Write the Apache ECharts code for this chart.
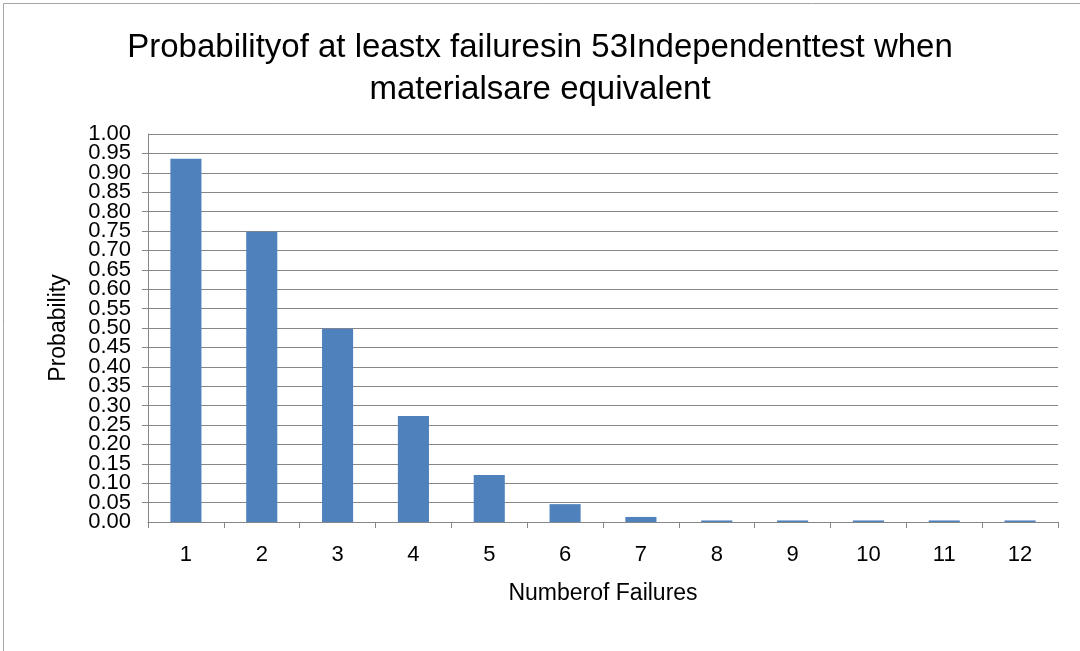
<!DOCTYPE html>
<html>
<head>
    <meta charset="utf-8">
    <script src="https://cdn.jsdelivr.net/npm/echarts@6/dist/echarts.min.js"></script>
</head>
<body style="margin:0">
    <div id="main" style="width: 1080px; height: 651px"></div>
    <script type="text/javascript">
        var failures = ['1', '2', '3', '4', '5', '6', '7', '8', '9', '10', '11', '12'];
        var probability = [0.936, 0.748, 0.498, 0.273, 0.121, 0.046, 0.013, 0.004, 0.004, 0.004, 0.004, 0.004];

        var myChart = echarts.init(document.getElementById('main'));
        var font = 'Liberation Sans, Arial, sans-serif';
        var yLabel = {fontFamily: font, fontSize: 22, color: '#000', margin: 17};
        var option = {
            animation: false,
            backgroundColor: '#ffffff',
            graphic: [{
                type: 'rect',
                shape: {x: 3.5, y: 3.5, width: 1200, height: 800},
                style: {fill: 'none', stroke: '#a6a6a6', lineWidth: 1}
            }],
            title: {
                left: 'center',
                top: 22,
                text: 'Probabilityof at leastx failuresin 53Independenttest when\nmaterialsare equivalent',
                textStyle: {
                    fontFamily: font,
                    fontSize: 33,
                    fontWeight: 'normal',
                    color: '#000',
                    lineHeight: 42
                }
            },
            grid: {
                left: 148,
                right: 22,
                top: 134,
                bottom: 129
            },
            xAxis: {
                type: 'category',
                data: failures,
                name: 'Numberof Failures',
                nameLocation: 'middle',
                nameGap: 60,
                nameTextStyle: {fontFamily: font, fontSize: 23, color: '#000'},
                axisLine: {lineStyle: {color: '#868686', width: 1}},
                axisTick: {show: true, length: 6, lineStyle: {color: '#868686'}},
                axisLabel: {fontFamily: font, fontSize: 22, color: '#000', margin: 22}
            },
            yAxis: [{
                type: 'value',
                min: 0,
                max: 1,
                interval: 0.05,
                name: 'Probability',
                nameLocation: 'middle',
                nameGap: 78,
                nameTextStyle: {fontFamily: font, fontSize: 23, color: '#000'},
                axisLine: {show: true, lineStyle: {color: '#868686', width: 1}},
                axisTick: {show: true, length: 6, lineStyle: {color: '#868686'}},
                axisLabel: Object.assign({
                    showMinLabel: false, showMaxLabel: false,
                    formatter: function (v) { return v.toFixed(2); }
                }, yLabel),
                splitLine: {lineStyle: {color: '#868686', width: 1}}
            }, {
                // second axis only carries the 0.00 and 1.00 labels
                type: 'value',
                position: 'left',
                min: 0,
                max: 1,
                interval: 0.05,
                axisLine: {show: false},
                axisTick: {show: false},
                splitLine: {show: false},
                axisLabel: Object.assign({
                    showMinLabel: true, showMaxLabel: true,
                    formatter: function (v) { return (v === 0 || v === 1) ? v.toFixed(2) : ''; }
                }, yLabel)
            }],
            series: [{
                type: 'bar',
                data: probability,
                barWidth: '41%',
                itemStyle: {color: '#4f81bd'}
            }]
        };
        myChart.setOption(option);
    </script>
</body>
</html>
